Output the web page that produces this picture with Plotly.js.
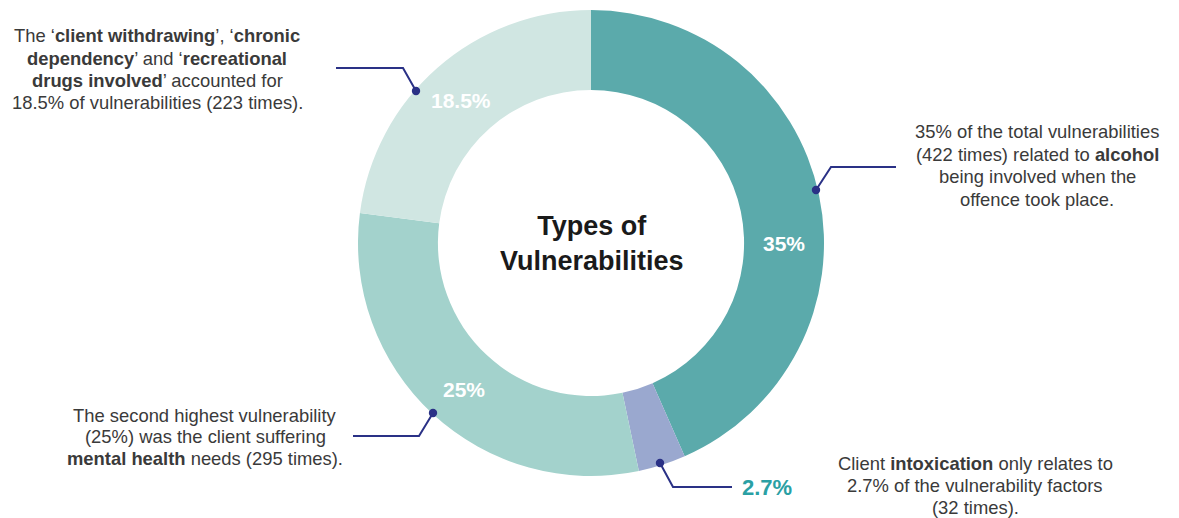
<!DOCTYPE html>
<html>
<head>
<meta charset="utf-8">
<script src="https://cdn.plot.ly/plotly-3.0.1.min.js"></script>
<style>html,body{margin:0;padding:0;background:#fff}#chart{width:1179px;height:518px}</style>
</head>
<body>
<div id="chart"></div>
<script>
// ---- data ----
const categories = ["Alcohol", "Intoxication", "Mental health", "Withdrawing / dependency / recreational drugs"];
const counts = [422, 32, 295, 223];
const shareLabels = ["35%", "2.7%", "25%", "18.5%"];
const colors = ["#5BAAAB", "#9AA8CF", "#A3D2CC", "#D0E6E2"];
const centerTitle = "Types of<br>Vulnerabilities";
const notes = [
  ["35% of the total vulnerabilities", "(422 times) related to <b>alcohol</b>", "being involved when the", "offence took place."],
  ["Client <b>intoxication</b> only relates to", "2.7% of the vulnerability factors", "(32 times)."],
  ["The second highest vulnerability", "(25%) was the client suffering", "<b>mental health</b> needs (295 times)."],
  ["The ‘<b>client withdrawing</b>’, ‘<b>chronic</b>", "<b>dependency</b>’ and ‘<b>recreational</b>", "<b>drugs involved</b>’ accounted for", "18.5% of vulnerabilities (223 times)."]
];

const W = 1179, H = 518;
const px = x => x / W;
const py = y => 1 - y / H;
const FONT = "'Liberation Sans', Arial, sans-serif";
const NAVY = "#2A3186";

const trace = {
  type: "pie",
  labels: categories,
  values: counts,
  hole: 0.657,
  sort: false,
  direction: "clockwise",
  rotation: 0,
  textinfo: "none",
  hoverinfo: "label+value",
  marker: {colors: colors, line: {width: 0}},
  domain: {x: [px(358), px(824)], y: [py(476), py(10)]},
  showlegend: false
};

// leader lines: [start of horizontal, elbow, dot]
const leaders = [
  [[896, 167], [831, 167], [816, 190]],
  [[732, 487], [673, 487], [660, 463]],
  [[353, 436], [419, 436], [433, 413]],
  [[336, 68], [403, 68], [416, 91]]
];
const shapes = [];
leaders.forEach(l => {
  shapes.push({type: "path", xref: "paper", yref: "paper",
    path: `M ${px(l[0][0])} ${py(l[0][1])} L ${px(l[1][0])} ${py(l[1][1])} L ${px(l[2][0])} ${py(l[2][1])}`,
    line: {color: NAVY, width: 2}});
  const r = 4.2;
  shapes.push({type: "circle", xref: "paper", yref: "paper",
    x0: px(l[2][0] - r), x1: px(l[2][0] + r), y0: py(l[2][1] + r), y1: py(l[2][1] - r),
    fillcolor: NAVY, line: {color: NAVY, width: 0}});
});

function ann(text, x, y, font, extra) {
  return Object.assign({text: text, x: px(x), y: py(y), xref: "paper", yref: "paper",
    xanchor: "center", yanchor: "middle", showarrow: false, align: "center", font: font}, extra || {});
}
const annotations = [];
annotations.push(ann(centerTitle, 592, 243, {family: FONT, size: 27, color: "#1a1a1a", weight: 700}));
// slice labels
const slicePos = [[784, 244, "#ffffff"], [767, 487, "#2AA0A4"], [464, 389, "#ffffff"], [461, 100, "#ffffff"]];
shareLabels.forEach((t, i) => {
  annotations.push(ann("<b>" + t + "</b>", slicePos[i][0], slicePos[i][1],
    {family: FONT, size: i === 1 ? 22 : 21, color: slicePos[i][2]}));
});
// notes: centre x, first line y, line gap
const notePos = [[1037, 132, 22.4], [975, 463, 22.2], [205, 415, 21.8], [157, 36, 22.2]];
notes.forEach((lines, i) => {
  lines.forEach((t, k) => {
    annotations.push(ann(t, notePos[i][0], notePos[i][1] + k * notePos[i][2],
      {family: FONT, size: 18.4, color: "#3a3a3a"}));
  });
});

const layout = {
  width: W, height: H,
  margin: {l: 0, r: 0, t: 0, b: 0},
  paper_bgcolor: "#ffffff",
  shapes: shapes,
  annotations: annotations,
  font: {family: FONT}
};

Plotly.newPlot("chart", [trace], layout, {displayModeBar: false, staticPlot: true});
</script>
</body>
</html>
